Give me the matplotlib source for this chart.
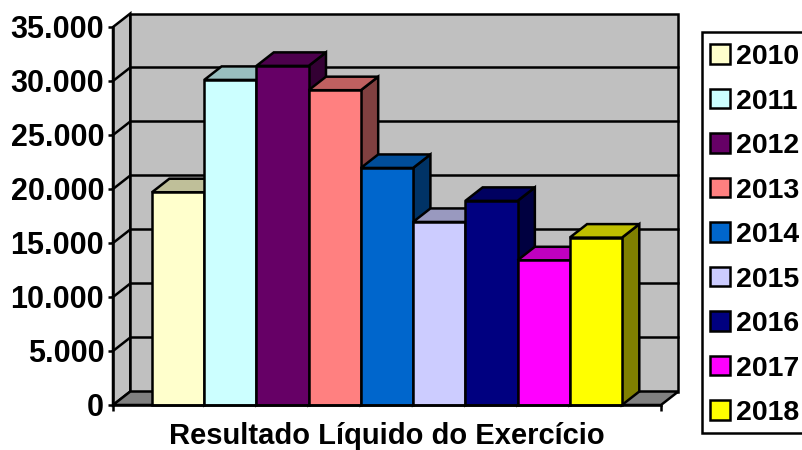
import matplotlib
matplotlib.use("Agg")
import matplotlib.pyplot as plt
from matplotlib.patches import Polygon, Patch, Rectangle

years = ["2010", "2011", "2012", "2013", "2014", "2015", "2016", "2017", "2018"]
values = [19700, 30100, 31400, 29150, 21950, 16950, 18900, 13400, 15500]
front_colors = ["#FFFFCC", "#CCFFFF", "#660066", "#FF8080", "#0066CC",
                "#CCCCFF", "#000080", "#FF00FF", "#FFFF00"]
top_colors = ["#BFBF99", "#99BFBF", "#4D004D", "#BF6060", "#004D99",
              "#9999BF", "#000060", "#BF00BF", "#BFBF00"]
side_colors = ["#808066", "#668080", "#330033", "#804040", "#003366",
               "#666680", "#000040", "#800080", "#808000"]
yticks = [0, 5000, 10000, 15000, 20000, 25000, 30000, 35000]
title = "Resultado Líquido do Exercício"

W, H = 803, 450
plt.rcParams["font.family"] = ["Liberation Sans", "DejaVu Sans"]
plt.rcParams["font.weight"] = "bold"
LW = 1.8

fig = plt.figure(figsize=(W / 100, H / 100), dpi=100)
L, R, B, T = 113, 661, 405, 27
ax = fig.add_axes([L / W, 1 - B / H, (R - L) / W, (B - T) / H])

barpx = 52.2
gap = 39 / barpx
x0, x1 = -0.5 - gap, 8.5 + gap
ymax = yticks[-1]
ax.set_xlim(x0, x1)
ax.set_ylim(0, ymax)
dx = 17.3 / barpx
dy = 13.5 / (B - T) * ymax

ax.set_facecolor("none")
for s in ["top", "right"]:
    ax.spines[s].set_visible(False)
for s in ["left", "bottom"]:
    ax.spines[s].set_linewidth(LW)
    ax.spines[s].set_zorder(40)


def poly(pts, fc, z):
    ax.add_patch(Polygon(pts, closed=True, facecolor=fc, edgecolor="black",
                         linewidth=LW, clip_on=False, zorder=z, joinstyle="miter"))


# Walls and floor
poly([(x0, 0), (x0, ymax), (x0 + dx, ymax + dy), (x0 + dx, dy)], "#C0C0C0", 1)
poly([(x0 + dx, dy), (x0 + dx, ymax + dy), (x1 + dx, ymax + dy), (x1 + dx, dy)], "#C0C0C0", 1)
poly([(x0, 0), (x1, 0), (x1 + dx, dy), (x0 + dx, dy)], "#808080", 2)

# Gridlines on side and back walls
for v in yticks[1:-1]:
    ax.plot([x0, x0 + dx, x1 + dx], [v, v + dy, v + dy], color="black", lw=LW,
            clip_on=False, zorder=3, solid_joinstyle="miter")

# Bars
for i, v in enumerate(values):
    z = 10 + i
    l, r = i - 0.5, i + 0.5
    poly([(r, 0), (r, v), (r + dx, v + dy), (r + dx, dy)], side_colors[i], z)
    poly([(l, v), (r, v), (r + dx, v + dy), (l + dx, v + dy)], top_colors[i], z)
    ax.bar(i, v, width=1, color=front_colors[i], edgecolor="black", linewidth=LW,
           zorder=z, clip_on=False)

ax.set_xticks([x0, x1])
ax.set_xticklabels(["", ""])
ax.set_yticks(yticks)
ax.set_yticklabels([f"{v:,}".replace(",", ".") for v in yticks],
                   fontsize=22, fontweight="bold")
ax.tick_params(axis="y", length=3.8, width=LW, pad=2.5)
ax.tick_params(axis="x", length=4.5, width=LW)
ax.set_xlabel(title, fontsize=21, fontweight="bold", labelpad=4.5)

# Legend frame runs past the right edge of the picture, as in the reference
fig.add_artist(Rectangle((702 / W, 1 - 433 / H), 120 / W, 401 / H, transform=fig.transFigure,
                         facecolor="white", edgecolor="black", linewidth=LW, zorder=1))
handles = [Patch(facecolor=c, edgecolor="black", linewidth=LW, label=y)
           for c, y in zip(front_colors, years)]
leg = fig.legend(handles=handles, loc="upper left",
                 bbox_to_anchor=(710.5 / W, 1 - 44 / H), bbox_transform=fig.transFigure,
                 ncol=1, frameon=False,
                 prop={"size": 20.5, "weight": "bold"},
                 borderaxespad=0, borderpad=0, labelspacing=0.65,
                 handlelength=0.7, handleheight=0.66, handletextpad=0.2)
leg.set_zorder(2)
fig.savefig("out.png", dpi=100)
